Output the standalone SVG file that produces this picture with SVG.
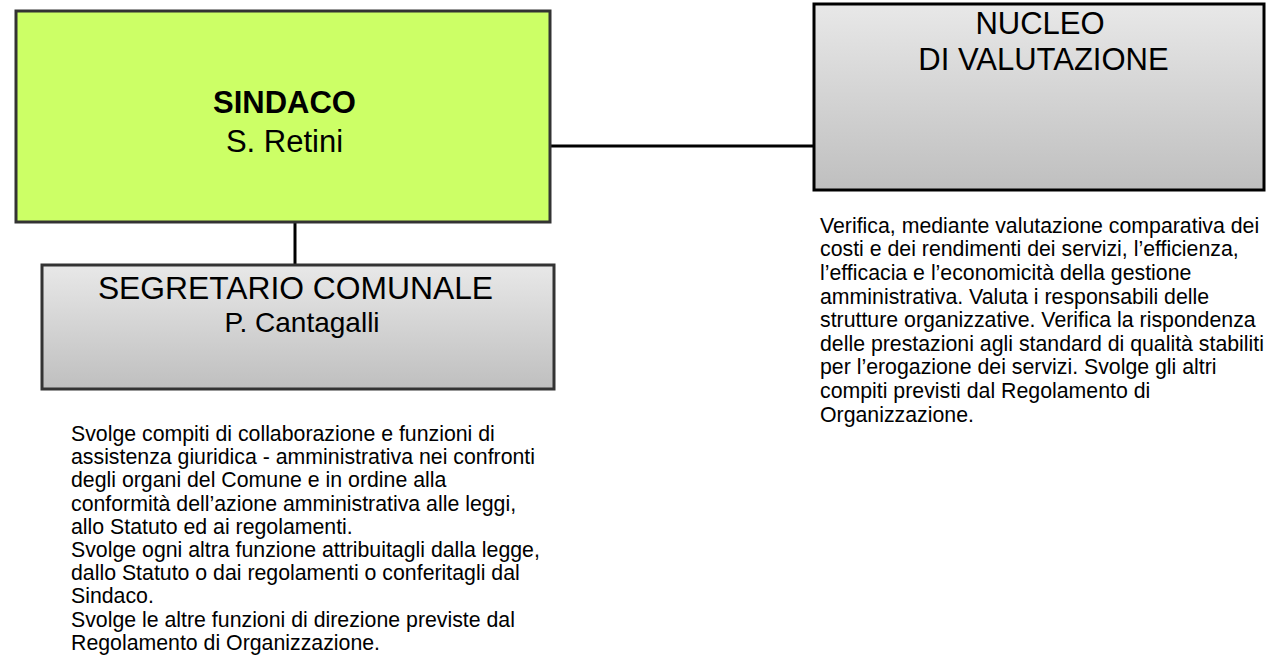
<svg xmlns="http://www.w3.org/2000/svg" width="1266" height="659" viewBox="0 0 1266 659">
  <defs>
    <linearGradient id="gray" x1="0" y1="0" x2="0" y2="1">
      <stop offset="0" stop-color="#e8e8e8"/>
      <stop offset="1" stop-color="#bfbfbf"/>
    </linearGradient>
    <style>
      .t { font-family: "Liberation Sans", Arial, sans-serif; fill: #000; }
      .title { font-size: 31px; text-anchor: middle; }
      .desc { font-size: 21.3px; }
      .conn { stroke: #000; stroke-width: 3; fill: none; }
    </style>
  </defs>
  <rect width="1266" height="659" fill="#fff"/>
  <g id="connectors">
    <line class="conn" x1="550" y1="146" x2="813" y2="146"/>
    <line class="conn" x1="295" y1="222" x2="295" y2="265"/>
  </g>
  <g id="sindaco">
    <rect x="16" y="11" width="534" height="211" fill="#ccff66" stroke="#333" stroke-width="3"/>
    <text class="t title" x="284.5" y="112.7" font-weight="bold">SINDACO</text>
    <text class="t title" x="284.5" y="151.7">S. Retini</text>
  </g>
  <g id="nucleo">
    <rect x="814" y="4" width="450" height="186" fill="url(#gray)" stroke="#000" stroke-width="3"/>
    <text class="t title" x="1040" y="34.3">NUCLEO</text>
    <text class="t title" x="1043.5" y="70">DI VALUTAZIONE</text>
  </g>
  <g id="segretario">
    <rect x="42" y="265" width="512" height="124" fill="url(#gray)" stroke="#333" stroke-width="3"/>
    <text class="t title" x="295.5" y="299.3" style="font-size:31.8px">SEGRETARIO COMUNALE</text>
    <text class="t title" x="302" y="331.7" style="font-size:28px">P. Cantagalli</text>
  </g>
  <g id="segretario-desc">
    <text class="t desc" x="71">
      <tspan x="71" y="441">Svolge compiti di collaborazione e funzioni di</tspan>
      <tspan x="71" y="464.2">assistenza giuridica - amministrativa nei confronti</tspan>
      <tspan x="71" y="487.4">degli organi del Comune e in ordine alla</tspan>
      <tspan x="71" y="510.6">conformità dell’azione amministrativa alle leggi,</tspan>
      <tspan x="71" y="533.8">allo Statuto ed ai regolamenti.</tspan>
      <tspan x="71" y="557">Svolge ogni altra funzione attribuitagli dalla legge,</tspan>
      <tspan x="71" y="580.2">dallo Statuto o dai regolamenti o conferitagli dal</tspan>
      <tspan x="71" y="603.4">Sindaco.</tspan>
      <tspan x="71" y="626.6">Svolge le altre funzioni di direzione previste dal</tspan>
      <tspan x="71" y="649.8">Regolamento di Organizzazione.</tspan>
    </text>
  </g>
  <g id="nucleo-desc">
    <text class="t desc" x="820">
      <tspan x="820" y="232.7">Verifica, mediante valutazione comparativa dei</tspan>
      <tspan x="820" y="256.3">costi e dei rendimenti dei servizi, l’efficienza,</tspan>
      <tspan x="820" y="279.9">l’efficacia e l’economicità della gestione</tspan>
      <tspan x="820" y="303.5">amministrativa. Valuta i responsabili delle</tspan>
      <tspan x="820" y="327.1">strutture organizzative. Verifica la rispondenza</tspan>
      <tspan x="820" y="350.7">delle prestazioni agli standard di qualità stabiliti</tspan>
      <tspan x="820" y="374.3">per l’erogazione dei servizi. Svolge gli altri</tspan>
      <tspan x="820" y="397.9">compiti previsti dal Regolamento di</tspan>
      <tspan x="820" y="421.5">Organizzazione.</tspan>
    </text>
  </g>
</svg>
